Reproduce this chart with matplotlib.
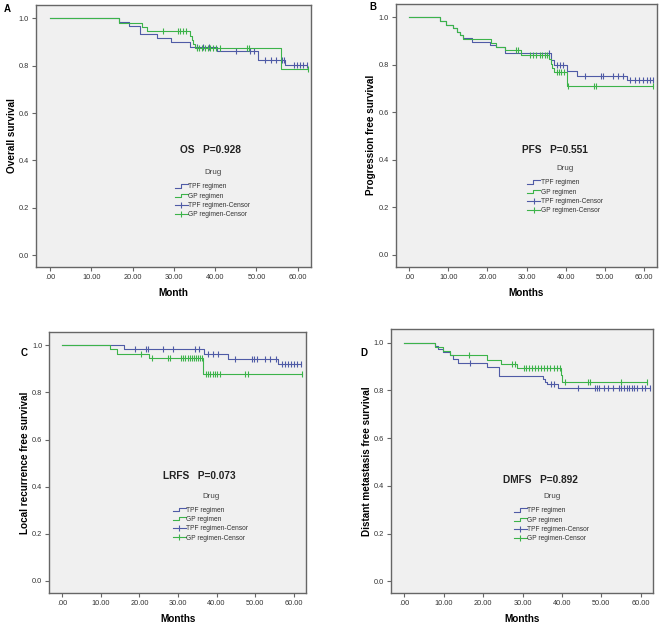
import numpy as np
import matplotlib
matplotlib.use("Agg")
import matplotlib.pyplot as plt
from matplotlib.lines import Line2D
from matplotlib.legend_handler import HandlerBase

plt.rcParams["font.family"] = ["Liberation Sans", "DejaVu Sans"]

# ---- data (months, survival) ----
x_ticks = [0, 10, 20, 30, 40, 50, 60]
x_tick_labels = [".00", "10.00", "20.00", "30.00", "40.00", "50.00", "60.00"]
y_ticks = [0.0, 0.2, 0.4, 0.6, 0.8, 1.0]
y_tick_labels = ["0.0", "0.2", "0.4", "0.6", "0.8", "1.0"]
groups = ["TPF regimen", "GP regimen"]

# A: overall survival
os_tpf_t = [16.6, 19.1, 21.9, 26.0, 29.2, 34.0, 40.5, 50.3, 57.0]
os_tpf_s = [0.983, 0.966, 0.934, 0.915, 0.898, 0.879, 0.862, 0.823, 0.803]
os_tpf_c = [35.5, 37.0, 38.5, 45.0, 48.5, 49.5, 52.0, 53.5, 54.8, 56.2, 56.7,
            59.0, 59.8, 60.6, 61.4, 62.2]
os_gp_t = [16.8, 22.3, 23.4, 33.9, 34.3, 34.7, 35.0, 56.0]
os_gp_s = [0.982, 0.963, 0.945, 0.927, 0.909, 0.891, 0.873, 0.786]
os_gp_c = [27.3, 31.0, 31.6, 32.3, 33.0, 35.5, 36.2, 36.8, 37.5, 38.2, 38.8,
           39.5, 40.2, 41.2, 47.6, 48.3, 62.5]

# B: progression free survival
pfs_tpf_t = [7.9, 9.5, 11.3, 12.2, 13.0, 13.9, 16.0, 20.6, 22.3, 24.5,
             36.3, 36.9, 40.3, 42.8, 55.7]
pfs_tpf_s = [0.984, 0.968, 0.954, 0.940, 0.925, 0.912, 0.897, 0.883, 0.876,
             0.848, 0.820, 0.797, 0.775, 0.754, 0.735]
pfs_tpf_c = [35.6, 37.7, 38.6, 39.3, 44.9, 49.0, 49.6, 52.1, 53.4, 54.5,
             56.3, 57.6, 58.7, 59.7, 60.6, 61.4, 62.3]
pfs_gp_t = [7.9, 9.5, 11.3, 12.2, 13.0, 13.9, 21.0, 22.3, 24.5, 28.5,
            35.8, 36.2, 36.6, 37.0, 40.2]
pfs_gp_s = [0.984, 0.968, 0.954, 0.940, 0.925, 0.907, 0.890, 0.876, 0.862,
            0.841, 0.823, 0.805, 0.787, 0.770, 0.712]
pfs_gp_c = [27.2, 27.8, 30.8, 31.6, 32.5, 33.4, 34.0, 34.6, 35.2, 37.7, 38.3,
            38.9, 39.5, 40.6, 47.2, 47.8, 62.3]

# C: local recurrence free survival
lrfs_tpf_t = [16.0, 36.8, 42.9, 55.9]
lrfs_tpf_s = [0.982, 0.964, 0.940, 0.921]
lrfs_tpf_c = [18.9, 21.8, 22.1, 26.2, 28.8, 34.4, 35.4, 37.9, 39.0, 40.3, 44.8,
              49.2, 49.8, 50.5, 52.6, 53.9, 55.5, 57.0, 57.8, 58.6, 59.4, 60.0,
              60.8, 62.0]
lrfs_gp_t = [12.4, 14.1, 22.5, 36.5]
lrfs_gp_s = [0.982, 0.964, 0.945, 0.876]
lrfs_gp_c = [20.3, 23.2, 27.5, 28.0, 30.8, 31.4, 31.9, 32.5, 33.1, 33.6, 34.1,
             34.6, 35.1, 35.6, 36.1, 37.3, 37.9, 38.4, 39.0, 39.6, 40.1, 41.0,
             47.3, 48.1, 62.2]

# D: distant metastasis free survival
dmfs_tpf_t = [7.8, 8.6, 9.8, 11.5, 12.3, 13.6, 20.9, 24.1, 35.2, 35.8, 36.3, 39.1]
dmfs_tpf_s = [0.986, 0.972, 0.963, 0.950, 0.933, 0.915, 0.898, 0.859, 0.848,
              0.837, 0.826, 0.809]
dmfs_tpf_c = [16.7, 37.3, 38.1, 44.1, 48.3, 48.9, 49.5, 50.8, 51.8, 52.9, 54.5,
              55.1, 55.7, 56.5, 57.1, 57.7, 58.3, 59.0, 60.2, 61.0, 62.3]
dmfs_gp_t = [7.8, 9.8, 11.5, 21.1, 24.5, 28.6, 39.8, 40.1]
dmfs_gp_s = [0.983, 0.966, 0.947, 0.929, 0.912, 0.894, 0.865, 0.837]
dmfs_gp_c = [16.5, 27.4, 28.0, 30.3, 31.0, 31.7, 32.4, 33.2, 34.0, 34.7, 35.4,
             36.2, 37.0, 38.0, 38.8, 39.6, 40.7, 46.6, 47.2, 55.1, 61.7]

panels = [
    ("A", "Overall survival", "Month", "OS   P=0.928",
     (os_tpf_t, os_tpf_s, os_tpf_c), (os_gp_t, os_gp_s, os_gp_c)),
    ("B", "Progression free survival", "Months", "PFS   P=0.551",
     (pfs_tpf_t, pfs_tpf_s, pfs_tpf_c), (pfs_gp_t, pfs_gp_s, pfs_gp_c)),
    ("C", "Local recurrence free survival", "Months", "LRFS   P=0.073",
     (lrfs_tpf_t, lrfs_tpf_s, lrfs_tpf_c), (lrfs_gp_t, lrfs_gp_s, lrfs_gp_c)),
    ("D", "Distant metastasis free survival", "Months", "DMFS   P=0.892",
     (dmfs_tpf_t, dmfs_tpf_s, dmfs_tpf_c), (dmfs_gp_t, dmfs_gp_s, dmfs_gp_c)),
]

# ---- layout ----
BLUE = "#4f5ba6"
GREEN = "#3cb34a"
FRAME = "#666666"
BG = "#f0f0f0"

axes_rect = {
    "A": [0.0545, 0.5714, 0.4166, 0.4206],
    "B": [0.5995, 0.5720, 0.3955, 0.4216],
    "C": [0.0747, 0.0486, 0.3889, 0.4184],
    "D": [0.5924, 0.0477, 0.3975, 0.4237],
}
letter_pos = {"A": (0.006, 0.985), "B": (0.559, 0.988),
              "C": (0.032, 0.434), "D": (0.546, 0.434)}
note_pos = {"A": (38.9, 0.445), "B": (37.2, 0.442),
            "C": (35.6, 0.445), "D": (34.5, 0.425)}
legend_anchor = {"A": (0.494, 0.385), "B": (0.491, 0.398),
                 "C": (0.469, 0.396), "D": (0.456, 0.391)}


class StepHandle(HandlerBase):
    """Little step-shaped legend key, like SPSS draws for survival lines."""

    def create_artists(self, legend, orig_handle, xdescent, ydescent,
                       width, height, fontsize, trans):
        x0, x1 = -xdescent, -xdescent + width
        xm = x0 + 0.45 * width
        lo, hi = -ydescent + 0.15 * height, -ydescent + 0.85 * height
        line = Line2D([x0, xm, xm, x1], [lo, lo, hi, hi],
                      color=orig_handle.get_color(), lw=0.8, transform=trans)
        return [line]


def step_curve(times, surv, end):
    t = np.r_[0.0, times, end]
    s = np.r_[1.0, surv, surv[-1]]
    return t, s


def surv_at(times, surv, when):
    idx = np.searchsorted(times, when, side="right")
    return np.r_[1.0, surv][idx]


fig = plt.figure(figsize=(6.6, 6.23), dpi=100)

for letter, ylab, xlab, note, tpf, gp in panels:
    ax = fig.add_axes(axes_rect[letter])
    ax.set_facecolor(BG)
    handles = []
    for (t, s, c), color in zip((tpf, gp), (BLUE, GREEN)):
        t = np.asarray(t)
        s = np.asarray(s)
        c = np.asarray(c)
        end = max(c.max(), t.max())
        tx, sy = step_curve(t, s, end)
        ln, = ax.step(tx, sy, where="post", color=color, lw=0.8)
        ax.plot(c, surv_at(t, s, c), ls="none", marker="|", ms=4.5,
                mew=0.8, color=color)
        handles.append(ln)
    cens_handles = [Line2D([], [], color=col, lw=0.8, marker="|", ms=5, mew=0.8)
                    for col in (BLUE, GREEN)]

    ax.set_xlim(-3.4, 63.2)
    ax.set_ylim(-0.05, 1.056)
    ax.set_xticks(x_ticks)
    ax.set_xticklabels(x_tick_labels)
    ax.set_yticks(y_ticks)
    ax.set_yticklabels(y_tick_labels)
    ax.tick_params(length=3, width=0.8, color=FRAME, labelsize=5.3,
                   labelcolor="#333333", pad=2)
    for sp in ax.spines.values():
        sp.set_color(FRAME)
        sp.set_linewidth(1.0)
    ax.set_xlabel(xlab, fontsize=7.2, fontweight="bold", labelpad=5)
    ax.set_ylabel(ylab, fontsize=7.2, fontweight="bold", labelpad=1.5)

    ax.text(*note_pos[letter], note, ha="center", va="center",
            fontsize=7.3, fontweight="bold", color="#222222")

    leg = ax.legend(handles + cens_handles,
                    [f"{g}" for g in groups] + [f"{g}-Censor" for g in groups],
                    title="Drug", loc="upper left",
                    bbox_to_anchor=legend_anchor[letter], frameon=False,
                    fontsize=4.8, title_fontsize=5.8, borderpad=0,
                    handlelength=1.9, handletextpad=0.1, labelspacing=0.35,
                    numpoints=1,
                    handler_map={h: StepHandle() for h in handles})
    leg.get_title().set_color("#444444")
    leg._legend_box.sep = 5
    for txt in leg.get_texts():
        txt.set_color("#333333")

    fig.text(*letter_pos[letter], letter, fontsize=7, fontweight="bold",
             ha="left", va="center")

fig.savefig("out.png", dpi=100, facecolor="white")
